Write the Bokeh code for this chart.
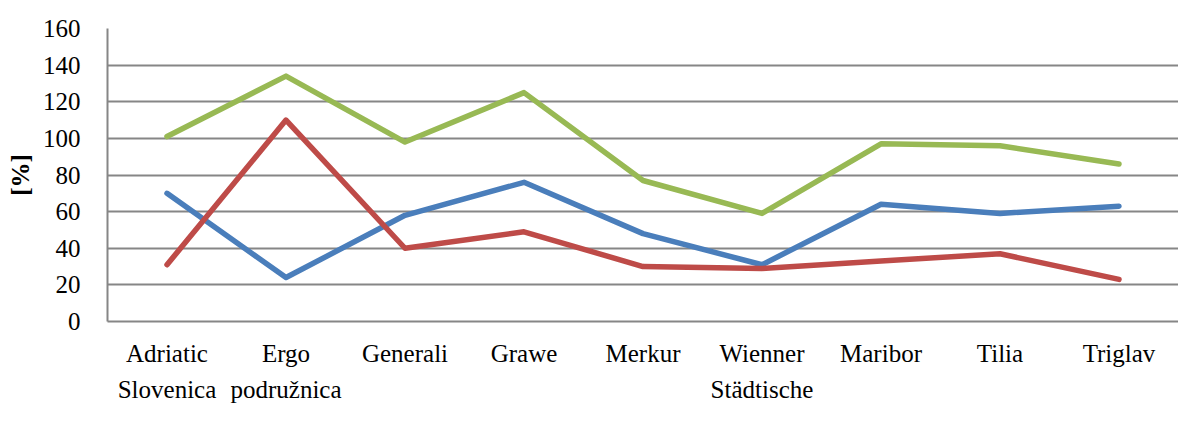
from bokeh.plotting import figure
from bokeh.models import Range1d, SingleIntervalTicker, FixedTicker, Legend, LinearAxis
from bokeh.embed import file_html
from bokeh.resources import INLINE

categories = ["Adriatic\nSlovenica", "Ergo\npodružnica", "Generali", "Grawe", "Merkur",
              "Wienner\nStädtische", "Maribor", "Tilia", "Triglav"]
skodni = [70, 24, 58, 76, 48, 31, 64, 59, 63]
stroskovni = [31, 110, 40, 49, 30, 29, 33, 37, 23]
kombinirani = [101, 134, 98, 125, 77, 59, 97, 96, 86]
series_names = ["Škodni količnik", "Stroškovni količnik", "Kombinirani količnik"]
colors = ["#4A7EBB", "#BE4B48", "#98B954"]

FONT = "Liberation Serif"
FS = "25px"

xs = list(range(len(categories)))
first_lines = {i: c.split("\n")[0] for i, c in enumerate(categories)}
second_lines = {i: (c.split("\n")[1] if "\n" in c else " ") for i, c in enumerate(categories)}

p = figure(x_range=Range1d(-0.5, len(categories) - 0.5), y_range=Range1d(0, 160),
           frame_width=1071, frame_height=293, output_backend="svg", toolbar_location=None,
           min_border_left=107, min_border_right=0, min_border_top=28, min_border_bottom=0)
p.outline_line_color = None

legend_items = []
for vals, name, col in zip([skodni, stroskovni, kombinirani], series_names, colors):
    r = p.line(xs, vals, line_color=col, line_width=5.5, line_cap="round", line_join="round")
    legend_items.append((name, [r]))

p.yaxis.ticker = SingleIntervalTicker(interval=20)
p.yaxis.axis_label = "[%]"
p.yaxis.axis_label_text_font = FONT
p.yaxis.axis_label_text_font_style = "bold"
p.yaxis.axis_label_text_font_size = FS
p.yaxis.axis_label_text_color = "black"
p.yaxis.axis_label_standoff = 6
p.yaxis.major_label_text_font = FONT
p.yaxis.major_label_text_font_size = FS
p.yaxis.major_label_text_color = "black"
p.yaxis.major_label_standoff = 21
p.yaxis.major_tick_line_color = None
p.yaxis.minor_tick_line_color = None
p.yaxis.axis_line_color = "#868686"
p.yaxis.axis_line_width = 2

xt = FixedTicker(ticks=xs)
p.xaxis.ticker = xt
p.xaxis.major_label_overrides = first_lines
p.xaxis.major_label_text_font = FONT
p.xaxis.major_label_text_font_size = FS
p.xaxis.major_label_text_color = "black"
p.xaxis.major_label_standoff = 12
p.xaxis.major_tick_line_color = None
p.xaxis.minor_tick_line_color = None
p.xaxis.axis_line_color = "#868686"
p.xaxis.axis_line_width = 2

ax2 = LinearAxis(ticker=FixedTicker(ticks=xs), major_label_overrides=second_lines,
                 major_label_text_font=FONT, major_label_text_font_size=FS,
                 major_label_text_color="black", major_label_standoff=0,
                 major_tick_line_color=None, minor_tick_line_color=None,
                 axis_line_color=None,
                 axis_label=" ", axis_label_text_font_size="4px", axis_label_standoff=4)
p.add_layout(ax2, "below")

p.xgrid.grid_line_color = None
p.ygrid.grid_line_color = "#868686"
p.ygrid.grid_line_width = 2

legend = Legend(items=legend_items, orientation="horizontal", location="top_center",
                label_text_font=FONT, label_text_font_size=FS, label_text_color="black",
                glyph_width=56, glyph_height=20, label_standoff=2, spacing=36,
                padding=0, margin=0, border_line_color=None, background_fill_alpha=0)
p.add_layout(legend, "below")

open("out.html", "w").write(file_html(p, INLINE))
